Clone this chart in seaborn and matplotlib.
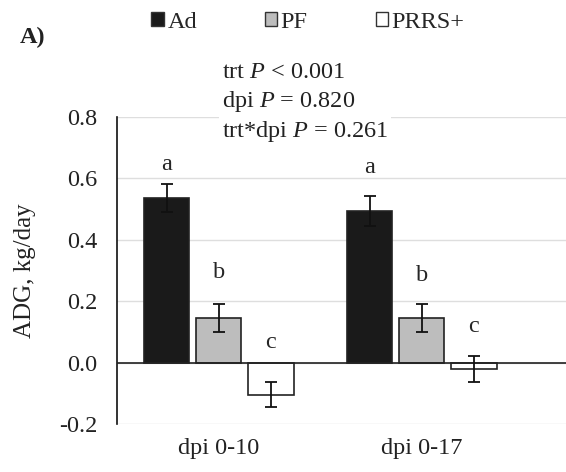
import numpy as np
import pandas as pd
import matplotlib
matplotlib.use("Agg")
import matplotlib.pyplot as plt
import seaborn as sns
from matplotlib.patches import Patch

categories = ["dpi 0-10", "dpi 0-17"]
treatments = ["Ad", "PF", "PRRS+"]
adg_ad = [0.537, 0.494]
adg_pf = [0.146, 0.146]
adg_prrs = [-0.104, -0.020]
sem_ad = [0.045, 0.048]
sem_pf = [0.045, 0.045]
sem_prrs = [0.042, 0.043]
letters_ad = ["a", "a"]
letters_pf = ["b", "b"]
letters_prrs = ["c", "c"]
letter_y_ad = [0.645, 0.635]
letter_y_pf = [0.295, 0.285]
letter_y_prrs = [0.065, 0.117]
y_ticks = [-0.2, 0.0, 0.2, 0.4, 0.6, 0.8]
stats_lines = ["trt $P$ < 0.001", "dpi $P$ = 0.820", "trt*dpi $P$ = 0.261"]
colors = {"Ad": "#1a1a1a", "PF": "#bdbdbd", "PRRS+": "#ffffff"}

sns.set_style("white")
plt.rcParams["font.family"] = ["Liberation Serif", "DejaVu Serif"]
plt.rcParams["mathtext.fontset"] = "custom"
plt.rcParams["mathtext.rm"] = "Liberation Serif"
plt.rcParams["mathtext.it"] = "Liberation Serif:italic"

FS = 17.5

vals = [adg_ad, adg_pf, adg_prrs]
sems = [sem_ad, sem_pf, sem_prrs]
lets = [letters_ad, letters_pf, letters_prrs]
lys = [letter_y_ad, letter_y_pf, letter_y_prrs]
rows = []
for t, v, s, l, ly in zip(treatments, vals, sems, lets, lys):
    for c, vi, si, li, lyi in zip(categories, v, s, l, ly):
        rows.append(dict(cat=c, trt=t, adg=vi, sem=si, let=li, ly=lyi))
df = pd.DataFrame(rows)

fig = plt.figure(figsize=(5.66, 4.72), dpi=100)
ax = fig.add_axes([0.207, 0.1017, 0.793, 0.6505])

sns.barplot(data=df, x="cat", y="adg", hue="trt", order=categories,
            hue_order=treatments, palette=colors, errorbar=None,
            width=0.77, gap=0.13, edgecolor="#222222", linewidth=1.2,
            legend=False, ax=ax, zorder=3)

for p, (_, r) in zip(ax.patches, df.iterrows()):
    xc = p.get_x() + p.get_width() / 2
    ax.errorbar(xc, r["adg"], yerr=r["sem"], fmt="none", ecolor="#111111",
                elinewidth=1.3, capsize=4, capthick=1.3, zorder=4)
    ax.text(xc, r["ly"], r["let"], ha="center", va="center", fontsize=FS, zorder=5)

ax.set_ylim(-0.2, 0.8)
ax.set_xlim(-0.5, 1.71)
ax.set_yticks(y_ticks)
ax.set_yticklabels([f"{t:.1f}" for t in y_ticks])
ax.yaxis.grid(True, color="#dedede", linewidth=1.0, zorder=0)
ax.set_axisbelow(True)
ax.axhline(0, color="#222222", linewidth=1.2, zorder=3)
for s in ["top", "right", "bottom"]:
    ax.spines[s].set_visible(False)
ax.spines["left"].set_color("#111111")
ax.spines["left"].set_linewidth(1.2)
ax.tick_params(axis="both", length=0, labelsize=FS, colors="#222222")
ax.tick_params(axis="y", pad=14)
ax.tick_params(axis="x", pad=10)
ax.set_xlabel("")
ax.set_ylabel("ADG, kg/day", fontsize=18, color="#222222", labelpad=17)

fig.text(222 / 566, 1 - 103 / 472, "\n".join(stats_lines), ha="left", va="center",
         fontsize=FS, color="#222222", linespacing=1.3,
         bbox=dict(facecolor="white", edgecolor="none", pad=2), zorder=10)

handles = [Patch(facecolor=colors[t], edgecolor="#333333", linewidth=1.0, label=t)
           for t in treatments]
fig.legend(handles=handles, loc="center", bbox_to_anchor=(308 / 566, 1 - 22 / 472),
           ncol=3, frameon=False, fontsize=FS, handlelength=0.5, handleheight=0.5,
           handletextpad=0.15, columnspacing=2.8)
fig.text(20 / 566, 1 - 37 / 472, "A)", fontsize=FS, fontweight="bold",
         ha="left", va="center", color="#222222")

fig.savefig("out.png", dpi=100)
